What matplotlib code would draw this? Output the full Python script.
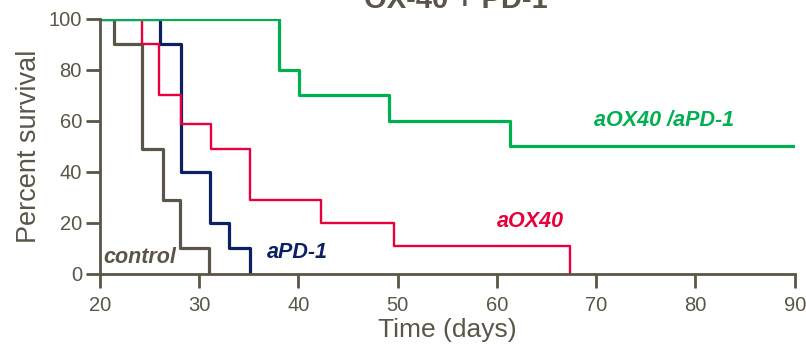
import matplotlib.pyplot as plt

plt.rcParams['font.family'] = ['Liberation Sans', 'DejaVu Sans']

# Kaplan-Meier steps: times where survival changes, and level after each time
control_t = [20, 21.4, 24.2, 26.4, 28.1, 31.0]
control_s = [100, 90, 49, 29, 10, 0]

apd1_t = [20, 26.1, 28.2, 31.1, 33.0, 35.1]
apd1_s = [100, 90, 40, 20, 10, 0]

aox40_t = [20, 24.2, 25.9, 28.2, 31.2, 35.1, 42.3, 49.6, 67.4]
aox40_s = [100, 90, 70, 59, 49, 29, 20, 11, 0]

combo_t = [20, 38.0, 40.1, 49.1, 61.3, 90]
combo_s = [100, 80, 70, 60, 50, 50]

gray = '#5a5548'
navy = '#0b2163'
red = '#e8003d'
green = '#00b050'

fig = plt.figure(figsize=(8.06, 3.44), dpi=100)
ax = fig.add_axes([0.124, 0.2035, 0.862, 0.7415])

lw = 2.3
ax.step(control_t, control_s, where='post', color=gray, lw=lw)
ax.step(apd1_t, apd1_s, where='post', color=navy, lw=lw)
ax.step(aox40_t, aox40_s, where='post', color=red, lw=1.7)
ax.step(combo_t, combo_s, where='post', color=green, lw=lw)

ax.set_xlim(20, 90)
ax.set_ylim(0, 100)
ax.set_xticks(range(20, 91, 10))
ax.set_yticks(range(0, 101, 20))

for s in ['top', 'right']:
    ax.spines[s].set_visible(False)
for s in ['left', 'bottom']:
    ax.spines[s].set_color(gray)
    ax.spines[s].set_linewidth(2)
ax.tick_params(colors=gray, labelsize=14.5, length=10, width=2, pad=3)
ax.tick_params(axis='x', pad=6)
for lab in ax.get_xticklabels() + ax.get_yticklabels():
    lab.set_color(gray)

ax.set_xlabel('Time (days)', fontsize=19, color=gray, labelpad=2)
ax.set_ylabel('Percent survival', fontsize=19.5, color=gray, labelpad=5)

lab_kw = dict(fontsize=15.5, fontweight='bold', fontstyle='italic', va='center')
ax.text(20.3, 6.5, 'control', color=gray, **lab_kw)
ax.text(36.8, 8.3, 'aPD-1', color=navy, **lab_kw)
ax.text(60.0, 20.5, 'aOX40', color=red, **lab_kw)
ax.text(69.8, 60, 'aOX40 /aPD-1', color=green, **lab_kw)

fig.text(0.565, 0.977, 'OX-40 + PD-1', fontsize=21, fontweight='bold',
         color=gray, ha='center', va='baseline')

fig.savefig('out.png', dpi=100)
